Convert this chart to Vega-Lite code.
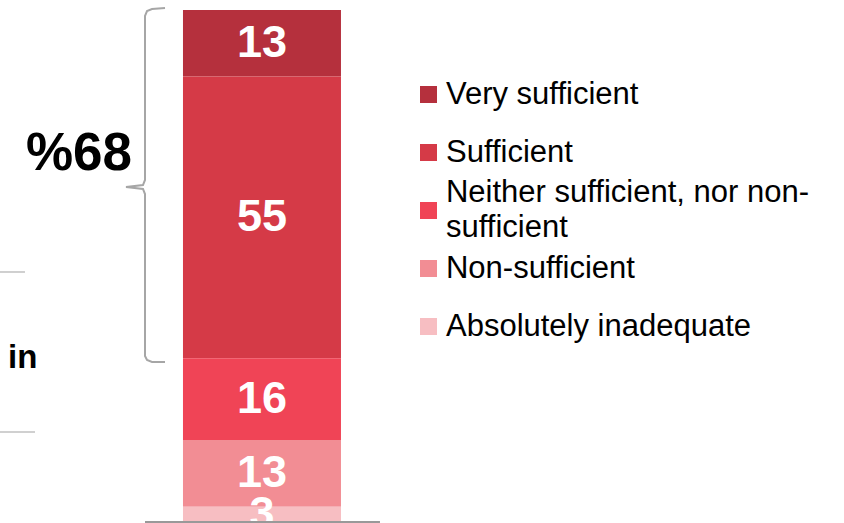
{
  "$schema": "https://vega.github.io/schema/vega-lite/v6.json",
  "width": 844,
  "height": 512,
  "autosize": {"type": "none"},
  "padding": {"top": 10, "left": 0, "right": 0, "bottom": 1},
  "background": "white",
  "config": {"view": {"stroke": null}, "font": "Liberation Sans"},
  "datasets": {
    "answers": [
      {"answer": "Very sufficient", "label": "Very sufficient", "pct": 13, "rank": 5, "lines": 1},
      {"answer": "Sufficient", "label": "\u00a0Sufficient", "pct": 55, "rank": 4, "lines": 1},
      {"answer": "Neither sufficient, nor non-sufficient", "label": "Neither sufficient, nor non-|sufficient", "pct": 16, "rank": 3, "lines": 2},
      {"answer": "Non-sufficient", "label": "Non-sufficient", "pct": 13, "rank": 2, "lines": 1},
      {"answer": "Absolutely inadequate", "label": "Absolutely inadequate", "pct": 3, "rank": 1, "lines": 1}
    ],
    "brace": [
      {"i": 1, "bx": 19.55, "by": 100.39},
      {"i": 2, "bx": 18.01, "by": 100.2},
      {"i": 3, "bx": 17.42, "by": 99.8},
      {"i": 4, "bx": 17.18, "by": 98.83},
      {"i": 5, "bx": 17.18, "by": 66.8},
      {"i": 6, "bx": 16.94, "by": 65.82},
      {"i": 7, "bx": 14.93, "by": 65.43},
      {"i": 8, "bx": 16.94, "by": 65.04},
      {"i": 9, "bx": 17.18, "by": 64.06},
      {"i": 10, "bx": 17.18, "by": 32.42},
      {"i": 11, "bx": 17.42, "by": 31.64},
      {"i": 12, "bx": 18.01, "by": 31.25},
      {"i": 13, "bx": 19.55, "by": 31.25}
    ]
  },
  "layer": [
    {
      "layer": [
        {
          "data": {"name": "answers"},
          "transform": [
            {"stack": "pct", "groupby": [], "sort": [{"field": "rank", "order": "ascending"}], "as": ["y0", "y1"]},
            {"calculate": "(datum.y0 + datum.y1) / 2", "as": "ymid"}
          ],
          "layer": [
            {
              "mark": {"type": "bar"},
              "encoding": {
                "x": {"datum": 21.68, "type": "quantitative", "scale": {"domain": [0, 100], "nice": false, "zero": false}, "axis": null},
                "x2": {"datum": 40.4},
                "y": {"field": "y0", "type": "quantitative", "scale": {"domain": [0, 100], "nice": false}, "axis": null},
                "y2": {"field": "y1"},
                "color": {
                  "field": "answer",
                  "type": "nominal",
                  "scale": {
                    "domain": ["Very sufficient", "Sufficient", "Neither sufficient, nor non-sufficient", "Non-sufficient", "Absolutely inadequate"],
                    "range": ["#B5303D", "#D53A47", "#F04456", "#F28D94", "#F7BEC2"]
                  },
                  "legend": null
                }
              }
            },
            {
              "mark": {"type": "text", "color": "white", "fontWeight": "bold", "fontSize": 45, "baseline": "middle", "align": "center"},
              "encoding": {
                "x": {"datum": 31.04, "type": "quantitative"},
                "y": {"field": "ymid", "type": "quantitative"},
                "text": {"field": "pct", "type": "quantitative"}
              }
            }
          ]
        },
        {
          "data": {"name": "brace"},
          "mark": {"type": "line", "color": "#A6A6A6", "strokeWidth": 2},
          "encoding": {
            "x": {"field": "bx", "type": "quantitative"},
            "y": {"field": "by", "type": "quantitative"},
            "order": {"field": "i", "type": "quantitative"}
          }
        },
        {
          "data": {"values": [{}]},
          "mark": {"type": "rule", "color": "#999999", "strokeWidth": 2},
          "encoding": {"x": {"datum": 17.18, "type": "quantitative"}, "x2": {"datum": 45.02}, "y": {"datum": 0, "type": "quantitative"}}
        },
        {
          "data": {"values": [{}]},
          "mark": {"type": "rule", "color": "#C0C0C0", "strokeWidth": 1.5},
          "encoding": {"x": {"datum": 0, "type": "quantitative"}, "x2": {"datum": 2.96}, "y": {"datum": 48.83, "type": "quantitative"}}
        },
        {
          "data": {"values": [{}]},
          "mark": {"type": "rule", "color": "#C0C0C0", "strokeWidth": 1.5},
          "encoding": {"x": {"datum": 0, "type": "quantitative"}, "x2": {"datum": 4.15}, "y": {"datum": 17.58, "type": "quantitative"}}
        },
        {
          "data": {"values": [{}]},
          "mark": {"type": "text", "text": "%68", "fontSize": 53, "fontWeight": "bold", "align": "right", "baseline": "alphabetic", "color": "black"},
          "encoding": {"x": {"datum": 15.64, "type": "quantitative"}, "y": {"datum": 68.75, "type": "quantitative"}}
        },
        {
          "data": {"values": [{}]},
          "mark": {"type": "text", "text": "in", "fontSize": 33, "fontWeight": "bold", "align": "left", "baseline": "alphabetic", "color": "black"},
          "encoding": {"x": {"datum": 0.95, "type": "quantitative"}, "y": {"datum": 30.08, "type": "quantitative"}}
        }
      ]
    },
    {
      "data": {"name": "answers"},
      "encoding": {
        "y": {
          "field": "answer",
          "type": "nominal",
          "scale": {
            "domain": ["Very sufficient", "Sufficient", "Neither sufficient, nor non-sufficient", "Non-sufficient", "Absolutely inadequate"],
            "range": [84.5, 316.5],
            "padding": 0
          },
          "axis": null
        }
      },
      "layer": [
        {
          "mark": {"type": "point", "shape": "square", "filled": true, "size": 289, "opacity": 1},
          "encoding": {
            "x": {"datum": 50.77, "type": "quantitative"},
            "color": {"field": "answer", "type": "nominal", "legend": null}
          }
        },
        {
          "transform": [{"filter": "datum.lines == 1"}],
          "mark": {"type": "text", "align": "left", "baseline": "middle", "fontSize": 31, "color": "black"},
          "encoding": {
            "x": {"datum": 52.84, "type": "quantitative"},
            "text": {"field": "label", "type": "nominal"}
          }
        },
        {
          "transform": [{"filter": "datum.lines == 2"}],
          "mark": {"type": "text", "align": "left", "baseline": "middle", "fontSize": 31, "lineBreak": "|", "lineHeight": 35, "dy": -17.5, "color": "black"},
          "encoding": {
            "x": {"datum": 52.84, "type": "quantitative"},
            "text": {"field": "label", "type": "nominal"}
          }
        }
      ]
    }
  ],
  "resolve": {"scale": {"y": "independent"}}
}
